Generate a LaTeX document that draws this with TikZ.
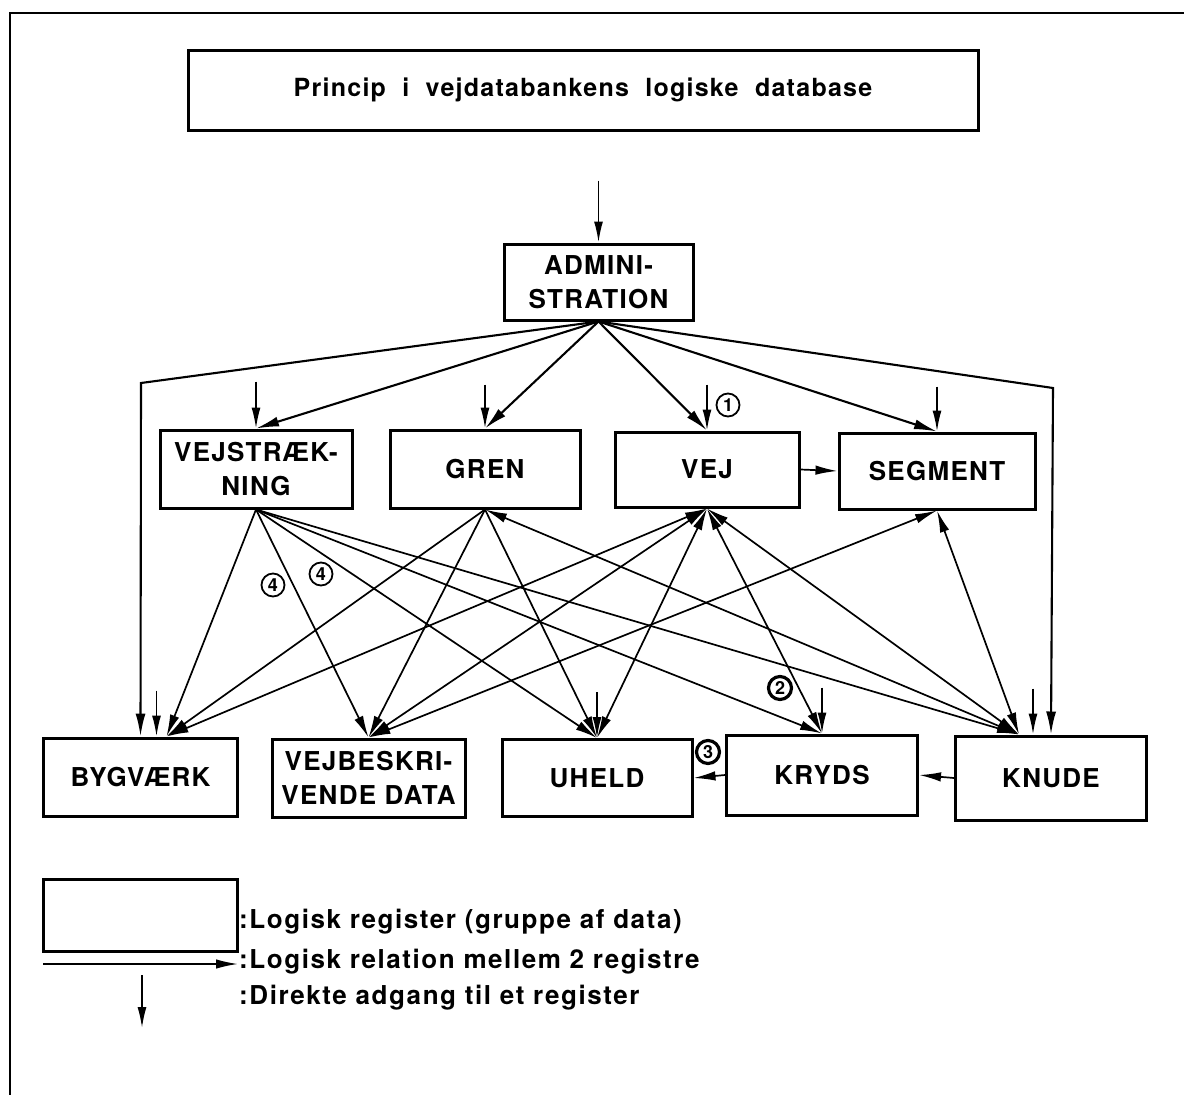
\documentclass[tikz,border=0pt]{standalone}
\usepackage{fontspec}
\setmainfont{TeX Gyre Heros}
\newfontfamily\boxfont[LetterSpace=5]{TeX Gyre Heros}
\newfontfamily\legfont[LetterSpace=6]{TeX Gyre Heros}
\usetikzlibrary{arrows.meta}

\tikzset{
  register/.style={draw, line width=3pt, rectangle, inner sep=0pt, align=center,
    font=\boxfont\bfseries\fontsize{26}{34}\selectfont},
  rel/.style={line width=1.7pt, -{Latex[length=22pt,width=9.5pt]}},
  relboth/.style={line width=1.7pt, {Latex[length=22pt,width=9.5pt]}-{Latex[length=22pt,width=9.5pt]}},
  direct/.style={line width=1.8pt, -{Latex[length=21pt,width=9pt]}},
  admrel/.style={line width=2.1pt, -{Latex[length=23pt,width=10pt]}},
  num/.style={circle, draw, line width=1.8pt, inner sep=0pt, minimum size=23pt,
    font=\bfseries\fontsize{18}{18}\selectfont},
  numdark/.style={num, line width=3.2pt},
  legtext/.style={anchor=west, inner sep=0pt, font=\legfont\bfseries\fontsize{26}{30}\selectfont}
}

\begin{document}
\begin{tikzpicture}[x=1pt,y=-1pt]
\useasboundingbox (0,0) rectangle (1184,1095);
\fill[white] (0,0) rectangle (1184,1095);

% page frame
\draw[line width=2pt] (10,1095) -- (10,13) -- (1184,13);

% title
\node[register, minimum width=790pt, minimum height=80pt,
  font=\boxfont\bfseries\fontsize{25}{30}\selectfont] (title) at (583,90)
  {Princip\ \ i\ \ vejdatabankens\ \ logiske\ \ database};

% registers
\node[register, minimum width=189pt, minimum height=76pt] (admin) at (598.5,282) {ADMINI-\\STRATION};

\node[register, minimum width=192pt, minimum height=78pt] (vs)   at (256,469)   {VEJSTRÆK-\\NING};
\node[register, minimum width=190pt, minimum height=78pt] (gren) at (485,469)   {GREN};
\node[register, minimum width=184pt, minimum height=75pt] (vej)  at (707,469.5) {VEJ};
\node[register, minimum width=196pt, minimum height=76pt] (seg)  at (937,471)   {SEGMENT};

\node[register, minimum width=194pt, minimum height=78pt] (byg)   at (140.5,777) {BYGVÆRK};
\node[register, minimum width=193pt, minimum height=78pt] (vbd)   at (368.5,778) {VEJBESKRI-\\VENDE\ DATA};
\node[register, minimum width=190pt, minimum height=77pt] (uheld) at (597,778)   {UHELD};
\node[register, minimum width=191pt, minimum height=80pt] (kryds) at (822,775)   {KRYDS};
\node[register, minimum width=191pt, minimum height=84pt] (knude) at (1051,778)  {KNUDE};

% direct access
\coordinate (dAdm)  at ([yshift=62pt]admin.north);
\coordinate (dVs)   at ([yshift=47pt]vs.north);
\coordinate (dGren) at ([yshift=44pt]gren.north);
\coordinate (dVej)  at ([yshift=46pt]vej.north);
\coordinate (dSeg)  at ([yshift=45pt]seg.north);
\coordinate (dByg)  at ([xshift=16pt,yshift=46pt]byg.north);
\coordinate (dUh)   at ([yshift=46pt]uheld.north);
\coordinate (dKr)   at ([yshift=46pt]kryds.north);
\coordinate (dKn)   at ([xshift=-18pt,yshift=46pt]knude.north);
\draw[direct] (dAdm) -- (admin.north);
\draw[direct] (dVs) -- (vs.north);
\draw[direct] (dGren) -- (gren.north);
\draw[direct] (dVej) -- (vej.north);
\draw[direct] (dSeg) -- (seg.north);
\draw[direct] (dByg) -- ([xshift=16pt]byg.north);
\draw[direct] (dUh) -- (uheld.north);
\draw[direct] (dKr) -- (kryds.north);
\draw[direct] (dKn) -- ([xshift=-18pt]knude.north);

% administration to the registers
\coordinate (bendL) at (141,383);
\coordinate (bendR) at (1053,388);
\draw[admrel] (admin.south) -- (bendL) -- (byg.north);
\draw[admrel] (admin.south) -- (vs.north);
\draw[admrel] (admin.south) -- (gren.north);
\draw[admrel] (admin.south) -- (vej.north);
\draw[admrel] (admin.south) -- (seg.north);
\draw[admrel] (admin.south) -- (bendR) -- (knude.north);

% relations from VEJSTRÆKNING
\draw[rel] (vs.south) -- ([xshift=26pt]byg.north);
\draw[rel] (vs.south) -- (vbd.north);
\draw[rel] (vs.south) -- (uheld.north);
\draw[rel] (vs.south) -- (kryds.north);
\draw[rel] (vs.south) -- ([xshift=-32pt]knude.north);

% relations from GREN
\draw[rel] (gren.south) -- ([xshift=26pt]byg.north);
\draw[rel] (gren.south) -- (vbd.north);
\draw[rel] (gren.south) -- (uheld.north);
\draw[relboth] (gren.south) -- ([xshift=-32pt]knude.north);

% relations from VEJ
\draw[relboth] (vej.south) -- ([xshift=26pt]byg.north);
\draw[relboth] (vej.south) -- (vbd.north);
\draw[relboth] (vej.south) -- (uheld.north);
\draw[relboth] (vej.south) -- (kryds.north);
\draw[relboth] (vej.south) -- ([xshift=-32pt]knude.north);

% relations from SEGMENT
\draw[relboth] (seg.south) -- (vbd.north);
\draw[relboth] (seg.south) -- ([xshift=-32pt]knude.north);

% horizontal relations
\draw[rel] (vej.east) -- (seg.west);
\draw[rel] (kryds.west) -- (uheld.east);
\draw[rel] (knude.west) -- (kryds.east);

% numbered remarks
\node[num] (n1) at (728,405) {1};
\node[numdark] (n2) at (780,688) {2};
\node[numdark] (n3) at (708,752) {3};
\node[num] (n4a) at (273,585) {4};
\node[num] (n4b) at (321,574) {4};

% legend
\node[draw, line width=3pt, minimum width=194pt, minimum height=72pt, inner sep=0pt] (legbox) at (140,915) {};
\node[legtext] (legA) at (239,922) {:Logisk register (gruppe af data)};
\coordinate (legS) at (43,964);
\coordinate (legE) at (238,964);
\draw[rel] (legS) -- (legE);
\node[legtext] (legB) at (239,962) {:Logisk relation mellem 2 registre};
\coordinate (legD1) at (142,975);
\coordinate (legD2) at (142,1028);
\draw[direct] (legD1) -- (legD2);
\node[legtext] (legC) at (239,998) {:Direkte adgang til et register};
\end{tikzpicture}
\end{document}
